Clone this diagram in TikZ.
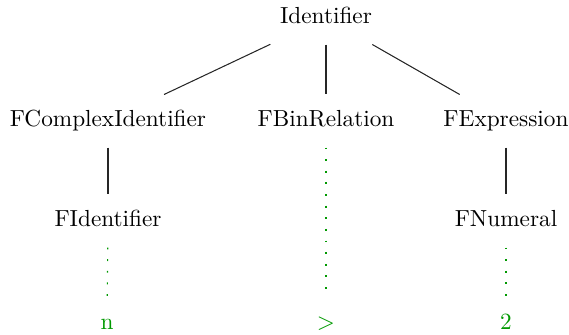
\documentclass[tikz,border=0pt]{standalone}
\usepackage{xcolor}
\usepackage{tikz}
\usetikzlibrary{positioning}

\begin{document}
\begin{tikzpicture}[
  x=0.43pt, y=-0.43pt,
  tnode/.style={inner xsep=4pt, inner ysep=6.7pt, text height=7pt, text depth=2pt},
  leaf/.style={tnode, text=green!60!black},
  branch/.style={draw=black!85, line width=0.45pt},
  lexbranch/.style={draw=green!60!black, line width=0.5pt, dash pattern=on 0.8pt off 4.2pt}
]
\useasboundingbox (0,0) rectangle (569,334);
\node[tnode] (id) at (326,18) {Identifier};
\node[tnode] (cplx) at (108,121) {FComplexIdentifier};
\node[tnode] (rel) at (326,121) {FBinRelation};
\node[tnode] (expr) at (506,121) {FExpression};
\node[tnode] (fid) at (108,221) {FIdentifier};
\node[tnode] (num) at (506,221) {FNumeral};
\node[leaf] (n) at (107,324) {n};
\node[leaf] (gt) at (326,324) {>};
\node[leaf] (two) at (506,324) {2};
\draw[branch] (id) -- (cplx);
\draw[branch] (id) -- (rel);
\draw[branch] (id) -- (expr);
\draw[branch] (cplx) -- (fid);
\draw[branch] (expr) -- (num);
\draw[lexbranch] (fid) -- (n);
\draw[lexbranch] (rel) -- (gt);
\draw[lexbranch] (num) -- (two);
\end{tikzpicture}
\end{document}
